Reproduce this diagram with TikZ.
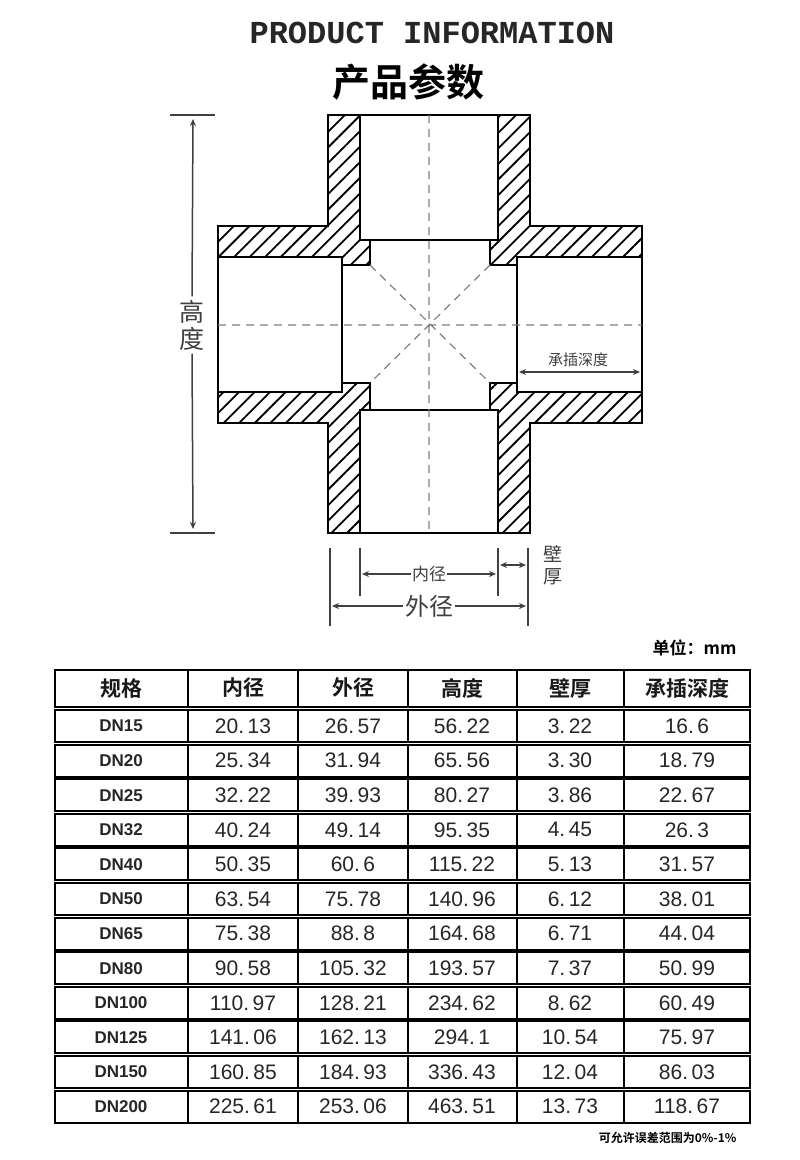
\documentclass[tikz,border=0pt]{standalone}
\usepackage{fontspec}
\setmainfont{Liberation Sans}
\newfontfamily\cjk{Noto Sans CJK SC}
\newfontfamily\cjkb{Noto Sans CJK SC Bold}
\newfontfamily\mono{Liberation Mono}
\usetikzlibrary{patterns.meta,arrows.meta}
\begin{document}
\begin{tikzpicture}[x=1pt,y=-1pt,
  wall/.style={line width=2.6pt,black},
  cl/.style={gray,dashed,line width=1.2pt,dash pattern=on 8pt off 6pt},
  dim/.style={line width=1.5pt,black!75},
  darr/.style={dim,{Stealth[length=7pt,width=6pt]}-{Stealth[length=7pt,width=6pt]}},
  tl/.style={line width=2pt,black},
  cell/.style={font=\fontsize{21}{21}\selectfont, text=black!85},
  hcell/.style={font=\cjkb\fontsize{21}{21}\selectfont,text=black!90}]
\useasboundingbox (0,0) rectangle (800,1160);
\fill[white] (0,0) rectangle (800,1160);
\node[font=\mono\bfseries\fontsize{32}{32}\selectfont,text=black!85] (t1) at (432,33) {PRODUCT INFORMATION};
\node[font=\cjkb\fontsize{38}{38}\selectfont] (t2) at (408,82) {产品参数};
% fitting
\path[pattern={Lines[angle=45,distance=11pt,line width=1.8pt]}]
 (328,115)--(530,115)--(530,226)--(642,226)--(642,423)--(530,423)--(530,533)--(328,533)--(328,423)--(218,423)--(218,226)--(328,226)--cycle;
\draw[wall,fill=white] (360,115)--(360,240)--(370,240)--(370,265)--(342,265)--(342,257)--(218,257)--(218,392)--(342,392)--(342,383)--(370,383)--(370,410)--(360,410)--(360,533)--(498,533)--(498,410)--(490,410)--(490,383)--(517,383)--(517,392)--(642,392)--(642,257)--(517,257)--(517,265)--(490,265)--(490,240)--(498,240)--(498,115)--cycle;
\draw[wall] (328,115)--(530,115)--(530,226)--(642,226)--(642,423)--(530,423)--(530,533)--(328,533)--(328,423)--(218,423)--(218,226)--(328,226)--cycle;
\draw[wall] (360,240)--(498,240) (360,410)--(498,410) (342,257)--(342,392) (517,257)--(517,392);
\draw[cl] (429,115)--(429,533) (218,325)--(642,325) (370,265)--(490,383) (490,265)--(370,383);
% height
\draw[dim] (170,115)--(215,115) (170,533)--(215,533);
\node[font=\cjk\fontsize{25}{27}\selectfont,text=black!75,align=center] (hd) at (192,325) {高\\度};
\coordinate (ht) at (193,119); \coordinate (hb) at (193,529);
\draw[dim,-{Stealth[length=7pt,width=6pt]}] (hd.north) -- (ht);
\draw[dim,-{Stealth[length=7pt,width=6pt]}] (hd.south) -- (hb);
% socket depth
\node[font=\cjk\fontsize{15}{15}\selectfont,text=black!75] (sd) at (578,360) {承插深度};
\coordinate (s1) at (519,372); \coordinate (s2) at (640,372);
\draw[darr] (s1)--(s2);
% bottom dims
\draw[dim] (330,548)--(330,626) (528,548)--(528,626) (360,548)--(360,596) (498,548)--(498,596);
\node[font=\cjk\fontsize{17}{17}\selectfont,text=black!75,fill=white,inner sep=1pt] (nj) at (429,574) {内径};
\coordinate (n1) at (362,574); \coordinate (n2) at (496,574);
\draw[dim,-{Stealth[length=7pt,width=6pt]}] (nj.west)--(n1);
\draw[dim,-{Stealth[length=7pt,width=6pt]}] (nj.east)--(n2);
\node[font=\cjk\fontsize{24}{24}\selectfont,text=black!75,inner sep=2pt] (wj) at (429,606) {外径};
\coordinate (w1) at (332,606); \coordinate (w2) at (526,606);
\draw[dim,-{Stealth[length=7pt,width=6pt]}] (wj.west)--(w1);
\draw[dim,-{Stealth[length=7pt,width=6pt]}] (wj.east)--(w2);
\coordinate (b1) at (500,565); \coordinate (b2) at (526,565);
\draw[darr] (b1)--(b2);
\node[font=\cjk\fontsize{19}{22}\selectfont,text=black!75,align=center] (bh) at (553,565) {壁\\厚};
% table
\node[font=\cjkb\fontsize{17}{17}\selectfont,anchor=east] (unit) at (740,648) {单位：mm};
\draw[tl] (55,670) rectangle (750,707);
\foreach \x in {188,298,408,517,624} \draw[tl] (\x,670)--(\x,707);
\node[hcell] (h1) at (121,688) {规格};
\node[hcell] (h2) at (243,688) {内径};
\node[hcell] (h3) at (353,688) {外径};
\node[hcell] (h4) at (462,688) {高度};
\node[hcell] (h5) at (570,688) {壁厚};
\node[hcell] (h6) at (687,688) {承插深度};
\foreach \dn/\a/\b/\c/\d/\e [count=\i from 0] in {
 DN15/20.\,13/26.\,57/56.\,22/3.\,22/16.\,6,
 DN20/25.\,34/31.\,94/65.\,56/3.\,30/18.\,79,
 DN25/32.\,22/39.\,93/80.\,27/3.\,86/22.\,67,
 DN32/40.\,24/49.\,14/95.\,35/4.\,45/26.\,3,
 DN40/50.\,35/60.\,6/115.\,22/5.\,13/31.\,57,
 DN50/63.\,54/75.\,78/140.\,96/6.\,12/38.\,01,
 DN65/75.\,38/88.\,8/164.\,68/6.\,71/44.\,04,
 DN80/90.\,58/105.\,32/193.\,57/7.\,37/50.\,99,
 DN100/110.\,97/128.\,21/234.\,62/8.\,62/60.\,49,
 DN125/141.\,06/162.\,13/294.\,1/10.\,54/75.\,97,
 DN150/160.\,85/184.\,93/336.\,43/12.\,04/86.\,03,
 DN200/225.\,61/253.\,06/463.\,51/13.\,73/118.\,67}{
 \pgfmathsetmacro\top{710+\i*34.6}
 \pgfmathsetmacro\bot{\top+32}
 \pgfmathsetmacro\mid{\top+16}
 \draw[tl] (55,\top) rectangle (750,\bot);
 \foreach \x in {188,298,408,517,624} \draw[tl] (\x,\top)--(\x,\bot);
 \node[font=\bfseries\fontsize{17}{17}\selectfont,text=black!85] (r\i a) at (121,\mid) {\dn};
 \node[cell] (r\i b) at (243,\mid) {\a};
 \node[cell] (r\i c) at (353,\mid) {\b};
 \node[cell] (r\i d) at (462,\mid) {\c};
 \node[cell] (r\i e) at (570,\mid) {\d};
 \node[cell] (r\i f) at (687,\mid) {\e};
}
\node[font=\cjkb\fontsize{12}{12}\selectfont,anchor=east] (ft) at (740,1138) {可允许误差范围为0\%-1\%};
\end{tikzpicture}
\end{document}
